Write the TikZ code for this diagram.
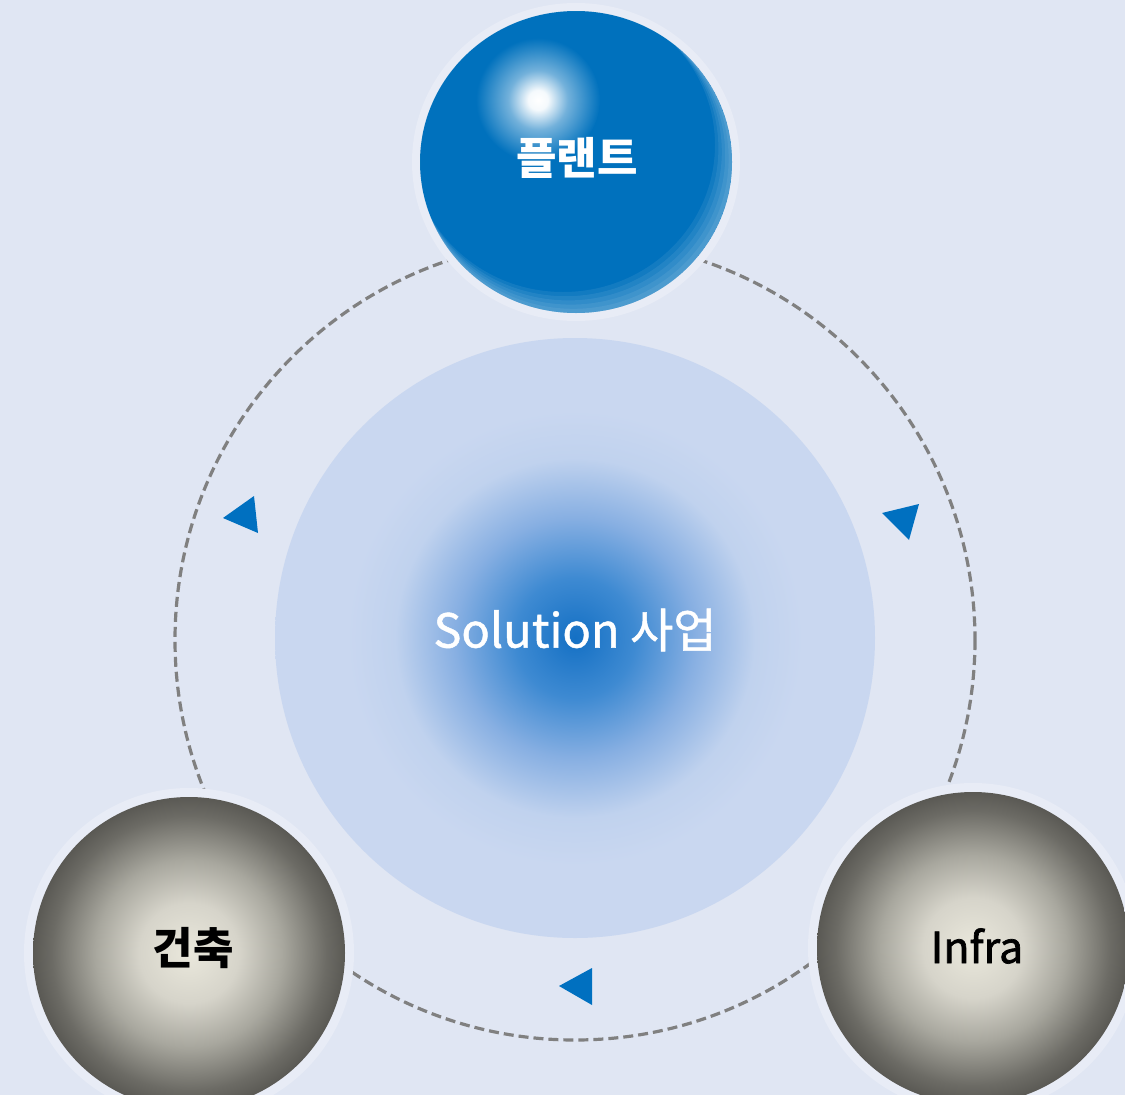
\documentclass[tikz,border=0pt]{standalone}
\usepackage{fontspec}
\newfontfamily\kr{Noto Sans CJK KR}
\newfontfamily\krsemi[FakeBold=1.0]{Noto Sans CJK KR}
\newfontfamily\krheavy[FakeBold=1.6]{Noto Sans CJK KR}
\usetikzlibrary{calc,shapes.geometric}
\definecolor{bg}{RGB}{224,230,243}
\definecolor{halo}{RGB}{232,236,246}
\definecolor{disc}{RGB}{201,215,240}
\definecolor{dblue}{RGB}{20,112,196}
\definecolor{dmid1}{RGB}{62,138,210}
\definecolor{dmid2}{RGB}{135,175,226}
\definecolor{dmid3}{RGB}{192,210,238}
\definecolor{blueball}{RGB}{0,113,189}
\definecolor{tri}{RGB}{0,112,192}
\definecolor{dash}{RGB}{128,128,128}
\definecolor{gin}{RGB}{234,232,220}
\definecolor{gone}{RGB}{214,212,202}
\definecolor{gtwo}{RGB}{168,167,158}
\definecolor{gthree}{RGB}{108,107,101}
\definecolor{gout}{RGB}{90,89,84}
\pgfdeclareradialshading{greyball}{\pgfpoint{0bp}{0bp}}{color(0bp)=(gin); color(8bp)=(gone); color(15bp)=(gtwo); color(22bp)=(gthree); color(25bp)=(gout); color(50bp)=(gout)}
\pgfdeclareradialshading{discshade}{\pgfpoint{0bp}{0bp}}{color(0bp)=(dblue); color(5bp)=(dmid1); color(10bp)=(dmid2); color(15bp)=(dmid3); color(19bp)=(disc); color(25bp)=(disc); color(50bp)=(disc)}
\pgfdeclareradialshading{glint}{\pgfpoint{0bp}{0bp}}{color(0bp)=(white); color(4bp)=(white!96!blueball); color(12bp)=(white!45!blueball); color(25bp)=(blueball); color(50bp)=(blueball)}
\tikzset{
  ball/.style={circle, minimum size=312pt, inner sep=0pt},
  greysphere/.style={ball, shade, shading=greyball},
  bluesphere/.style={ellipse, minimum width=312pt, minimum height=302pt, inner sep=0pt, fill=blueball},
  centredisc/.style={circle, minimum size=600pt, inner sep=0pt, shade, shading=discshade},
  orbit/.style={draw=dash, line width=3.2pt, dash pattern=on 10pt off 5pt},
  marker/.style={fill=tri},
  lbl/.style={font=\kr\bfseries\fontsize{44}{52}\selectfont},
  sheen/.style={white, opacity=0.07, even odd rule},
}
\begin{document}
\begin{tikzpicture}[x=1pt,y=-1pt]
\useasboundingbox (0,0) rectangle (1125,1095);
\clip (0,0) rectangle (1125,1095);
\fill[bg] (0,0) rectangle (1125,1095);
% positions
\coordinate (c) at (575,640);
\coordinate (pTop) at (576,162);
\coordinate (pLeft) at (189,953);
\coordinate (pRight) at (973,948);
% orbit
\draw[orbit] (c) circle (400);
% centre disc
\node[centredisc] (core) at (575,638) {};
\node[font=\krsemi\fontsize{47}{55}\selectfont, text=white] (coretext) at (575,630) {Solution 사업};
% halos
\fill[halo] (pTop) ellipse [x radius=164, y radius=159];
\fill[halo] (pLeft) circle (165);
\fill[halo] (pRight) circle (165);
% top blue sphere
\node[bluesphere] (plant) at (pTop) {};
\begin{scope}
  \clip (pTop) ellipse [x radius=156, y radius=151];
  \foreach \k in {1,...,5}{
    \fill[sheen] (pTop) ellipse [x radius=156, y radius=151] ($(pTop)+(-2.6*\k,-3.4*\k)$) ellipse [x radius=156-0.8*\k, y radius=151-0.8*\k];
  }
  \shade[shading=glint] (538,100) circle (62);
\end{scope}
\node[lbl, text=white] (plantlbl) at (577,158) {플랜트};
% grey spheres
\node[greysphere] (arch) at (pLeft) {};
\node[lbl, text=black] (archlbl) at (193,948) {건축};
\node[greysphere] (infra) at (pRight) {};
\node[font=\krheavy\fontsize{43}{50}\selectfont, text=black] (infralbl) at (977,946) {Infra};
% direction markers
\fill[marker] (223,518) -- (254,496) -- (258,533) -- cycle;
\fill[marker] (882,513) -- (919,504) -- (909,540) -- cycle;
\fill[marker] (559,986) -- (592,968) -- (592,1005) -- cycle;
\end{tikzpicture}
\end{document}
